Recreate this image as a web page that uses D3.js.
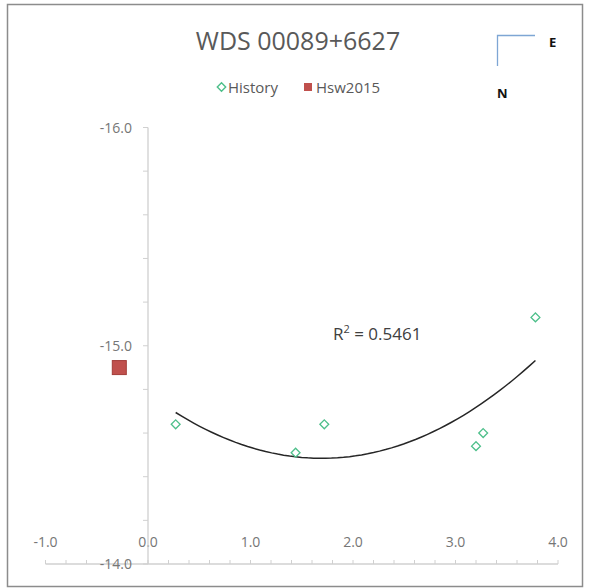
<!DOCTYPE html>
<html>
<head>
<meta charset="utf-8">
<script src="https://cdn.jsdelivr.net/npm/d3@7"></script>
<style>
  body { margin: 0; background: #fff; }
  text { font-family: 'Open Sans', sans-serif; }
</style>
</head>
<body>
<script>
'use strict';

// History measurements (x, y)
const historyX = [0.27, 1.44, 1.72, 3.20, 3.27, 3.78];
const historyY = [-14.64, -14.51, -14.64, -14.54, -14.60, -15.13];
// Hsw2015 measurement
const hswX = [-0.28];
const hswY = [-14.90];

const xTicks = [-1, 0, 1, 2, 3, 4];
const yTicks = [-16, -15, -14];
const titleText = 'WDS 00089+6627';
const r2Text = '0.5461';

const W = 590, H = 588;

const svg = d3.select('body').append('svg').attr('width', W).attr('height', H);

// outer frame
svg.append('rect')
	.attr('x', 7.5).attr('y', 4.5).attr('width', 575).attr('height', 582)
	.attr('fill', '#fff').attr('stroke', '#8c8c8c').attr('stroke-width', 1.5);

let xScale = d3.scaleLinear().domain([-1, 4]).range([45.5, 558]);
let yScale = d3.scaleLinear().domain([-16, -14]).range([127.5, 564]);
let fmt = d3.formatLocale({ decimal: '.', thousands: ',', grouping: [3], currency: ['', ''], minus: '-' }).format('.1f');

// title
svg.append('text')
	.attr('x', 298).attr('y', 50)
	.attr('text-anchor', 'middle')
	.attr('font-size', 25)
	.attr('fill', '#595959')
	.text(titleText);

// legend
let legend = svg.append('g').attr('transform', 'translate(0,87)');
legend.append('path')
	.attr('d', d3.symbol(d3.symbolDiamond2, 45)())
	.attr('transform', 'translate(221.5,0)')
	.attr('fill', 'none').attr('stroke', '#4dbf8a').attr('stroke-width', 1.4);
legend.append('text').attr('x', 228).attr('y', 5.5).attr('font-size', 15).attr('fill', '#595959').text('History');
legend.append('rect').attr('x', 304).attr('y', -4).attr('width', 8).attr('height', 8).attr('fill', '#c0504d');
legend.append('text').attr('x', 316).attr('y', 5.5).attr('font-size', 15).attr('fill', '#595959').text('Hsw2015');

// compass
svg.append('path')
	.attr('d', 'M535,35.5H497.5V66')
	.attr('fill', 'none').attr('stroke', '#7ea6d4').attr('stroke-width', 1.3);
svg.append('text').attr('x', 549).attr('y', 47).attr('font-size', 13).attr('font-weight', 'bold').attr('fill', '#111').text('E');
svg.append('text').attr('x', 497).attr('y', 98).attr('font-size', 13).attr('font-weight', 'bold').attr('fill', '#111').text('N');

// axes
const axisColor = '#d0d0d0';
const labelColor = '#767676';
let minorX = d3.range(-1, 4.001, 0.2);
let minorY = d3.range(-16, -13.999, 0.2);

let xAxisG = svg.append('g');
xAxisG.append('line')
	.attr('x1', xScale(-1)).attr('x2', xScale(4))
	.attr('y1', yScale(-14)).attr('y2', yScale(-14))
	.attr('stroke', axisColor).attr('stroke-width', 1.3);
xAxisG.selectAll('.xt').data(minorX).enter().append('line')
	.attr('x1', (d) => xScale(d)).attr('x2', (d) => xScale(d))
	.attr('y1', yScale(-14)).attr('y2', yScale(-14) - 4)
	.attr('stroke', axisColor);
xAxisG.selectAll('.xl').data(xTicks).enter().append('text')
	.attr('x', (d) => xScale(d)).attr('y', 547)
	.attr('text-anchor', 'middle').attr('font-size', 14).attr('fill', labelColor)
	.text((d) => fmt(d));

let yAxisG = svg.append('g');
yAxisG.append('line')
	.attr('x1', xScale(0)).attr('x2', xScale(0))
	.attr('y1', yScale(-16)).attr('y2', yScale(-14))
	.attr('stroke', axisColor).attr('stroke-width', 1.3);
yAxisG.selectAll('.yt').data(minorY).enter().append('line')
	.attr('x1', xScale(0) - 5).attr('x2', xScale(0))
	.attr('y1', (d) => yScale(d)).attr('y2', (d) => yScale(d))
	.attr('stroke', axisColor);
yAxisG.selectAll('.yl').data(yTicks).enter().append('text')
	.attr('x', 132).attr('y', (d) => yScale(d) + 5)
	.attr('text-anchor', 'end').attr('font-size', 14).attr('fill', labelColor)
	.text((d) => fmt(d));

// polynomial (order 2) trendline fitted to the history points
function fitQuad(xs, ys) {
	let n = xs.length, s = [0, 0, 0, 0, 0], t = [0, 0, 0];
	for (let i = 0; i < n; i++) {
		for (let k = 0; k < 5; k++) s[k] += Math.pow(xs[i], k);
		for (let k = 0; k < 3; k++) t[k] += ys[i] * Math.pow(xs[i], k);
	}
	let A = [[s[0], s[1], s[2], t[0]], [s[1], s[2], s[3], t[1]], [s[2], s[3], s[4], t[2]]];
	for (let i = 0; i < 3; i++) {
		for (let j = i + 1; j < 3; j++) {
			let f = A[j][i] / A[i][i];
			for (let k = i; k < 4; k++) A[j][k] -= f * A[i][k];
		}
	}
	let c = [0, 0, 0];
	for (let i = 2; i >= 0; i--) {
		let v = A[i][3];
		for (let k = i + 1; k < 3; k++) v -= A[i][k] * c[k];
		c[i] = v / A[i][i];
	}
	return c;
}
let coef = fitQuad(historyX, historyY);
let [x0, x1] = d3.extent(historyX);
let curvePts = d3.range(0, 61).map((i) => {
	let x = x0 + (x1 - x0) * i / 60;
	return [x, coef[0] + coef[1] * x + coef[2] * x * x];
});
svg.append('path')
	.datum(curvePts)
	.attr('d', d3.line().x((d) => xScale(d[0])).y((d) => yScale(d[1])))
	.attr('fill', 'none').attr('stroke', '#262626').attr('stroke-width', 1.5);

svg.append('text')
	.attr('x', 333).attr('y', 340)
	.attr('font-size', 17).attr('fill', '#404040')
	.html('R<tspan baseline-shift="super" font-size="11">2</tspan> = ' + r2Text);

// history markers
svg.selectAll('.hist').data(historyX).enter().append('path')
	.attr('d', d3.symbol(d3.symbolDiamond2, 50)())
	.attr('transform', (d, i) => 'translate(' + xScale(d) + ',' + yScale(historyY[i]) + ')')
	.attr('fill', 'none').attr('stroke', '#4dbf8a').attr('stroke-width', 1.3);

// Hsw2015 marker
svg.selectAll('.hsw').data(hswX).enter().append('rect')
	.attr('x', (d) => xScale(d) - 7).attr('y', (d, i) => yScale(hswY[i]) - 7)
	.attr('width', 14).attr('height', 14)
	.attr('fill', '#c0504d').attr('stroke', '#a33c39');
</script>
</body>
</html>
